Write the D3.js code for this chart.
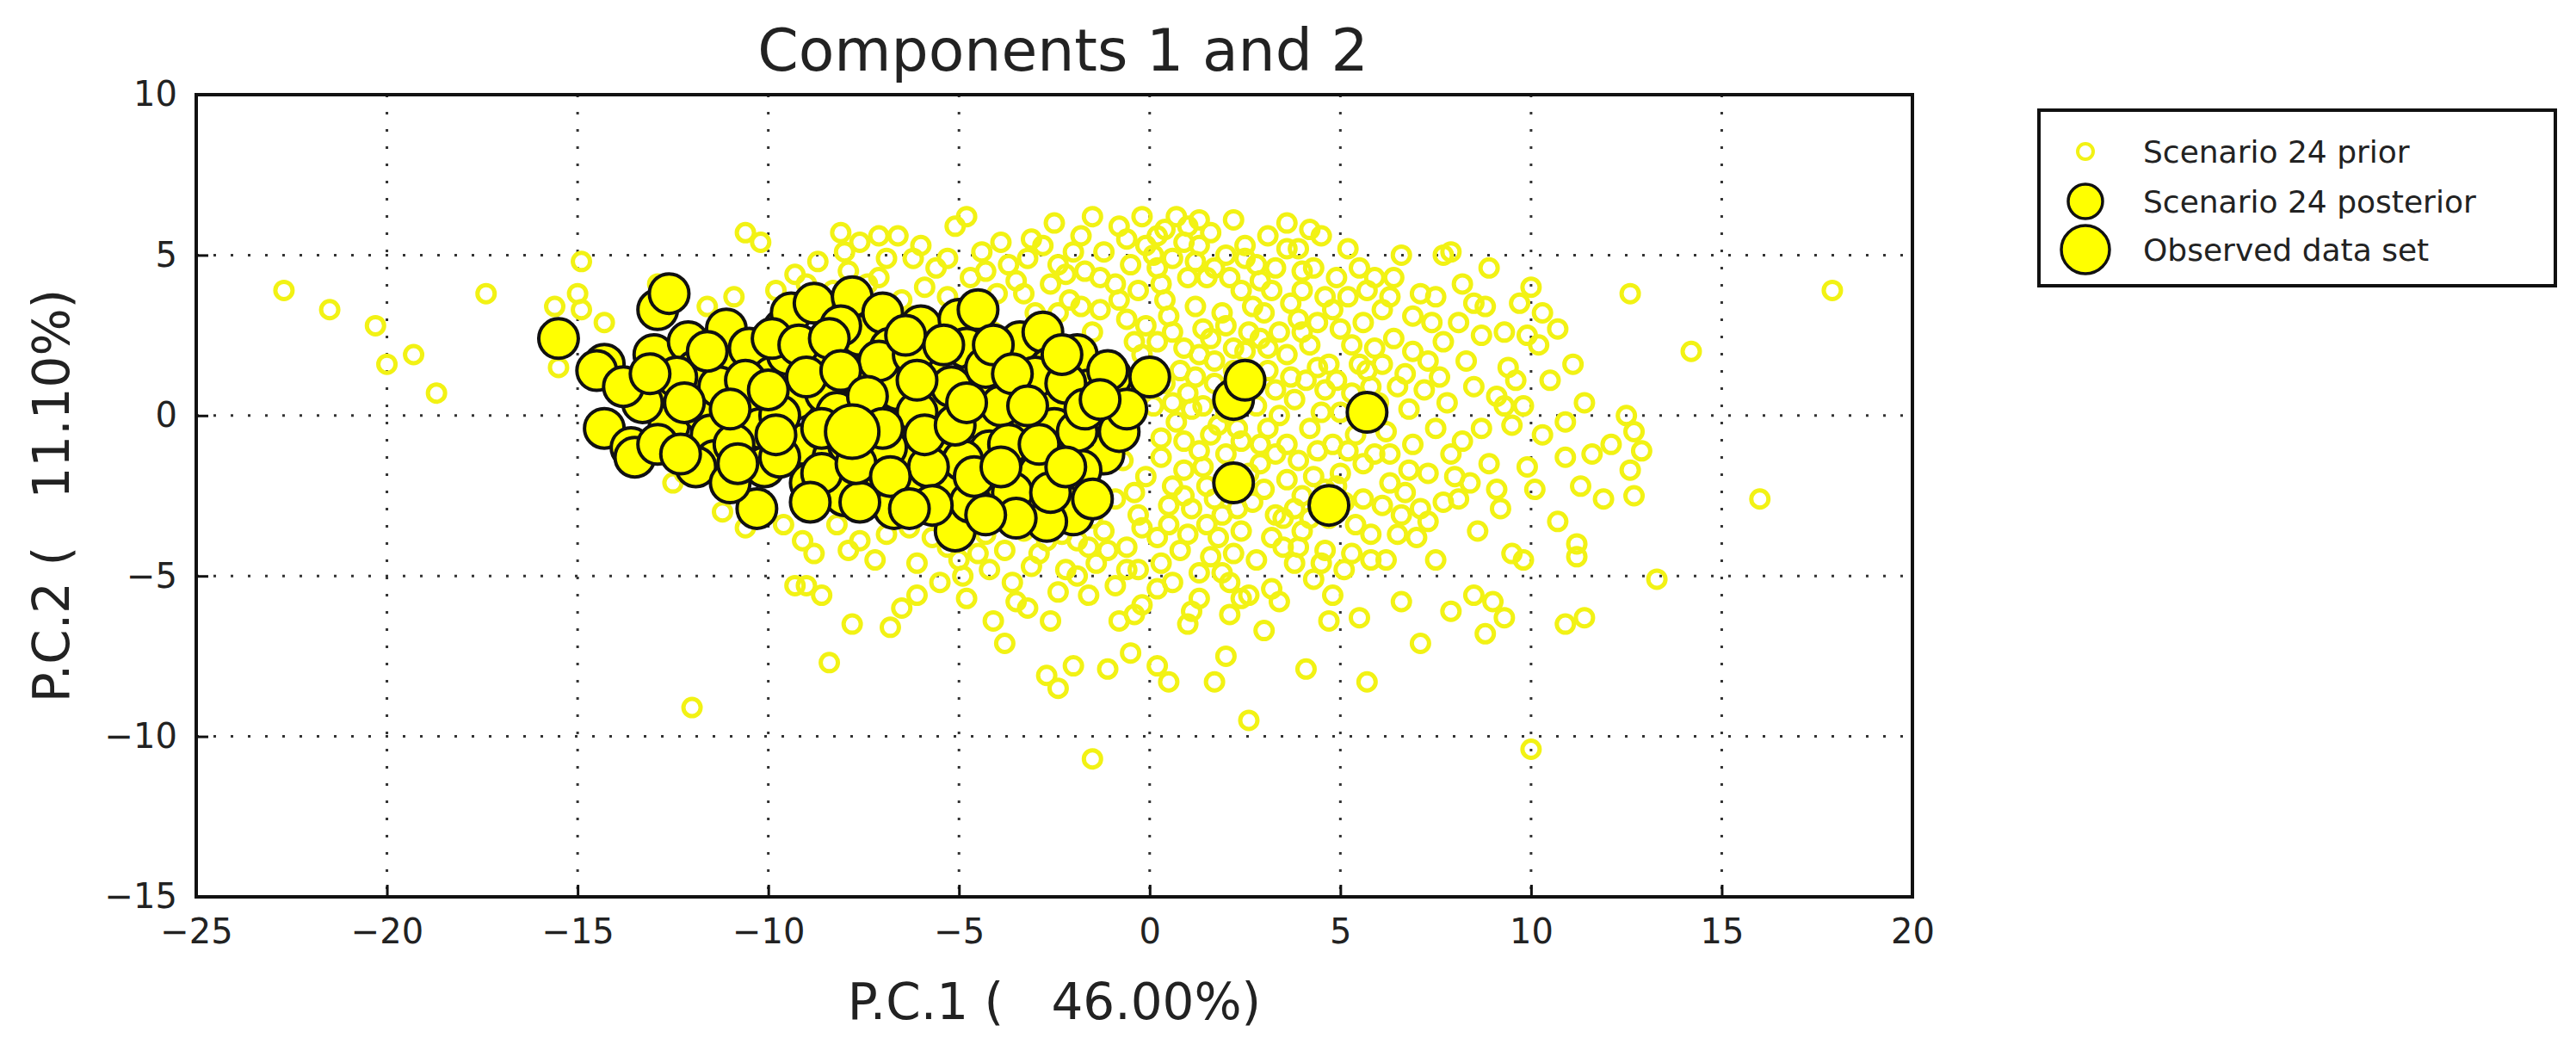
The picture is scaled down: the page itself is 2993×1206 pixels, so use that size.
<!DOCTYPE html>
<html>
<head>
<meta charset="utf-8">
<script src="https://cdn.jsdelivr.net/npm/d3@7"></script>
<style>
  body { margin: 0; background: #fff; }
  text { font-family: "DejaVu Sans", sans-serif; fill: #222; }
</style>
</head>
<body>
<svg id="chart" width="2993" height="1206"></svg>
<script>
// tick labels
var xTicks = [-25, -20, -15, -10, -5, 0, 5, 10, 15, 20];
var yTicks = [-15, -10, -5, 0, 5, 10];

// prior simulations (PC1, PC2)
var priorPoints = [
  [-22.7,3.9],[-21.5,3.3],[-20.3,2.8],[-20,1.6],[-19.3,1.9],[-18.7,0.7],[-17.4,3.8],[-14.9,4.8],[-15,3.8],
  [-15.6,3.4],[-15.5,1.5],[-14.3,2.9],[-14.9,3.3],[-12,-9.1],[-13.5,-1.5],[-11.2,-3],[-10.5,-2.6],[-9.3,-5.3],
  [-9,-5.3],[-8.4,-7.7],[-8.6,-5.6],[-7.9,-4.2],[-7.8,-6.5],[-7.2,-4.5],[-6.8,-6.6],[-6.5,-6],[-6.6,-3],
  [-5.7,-3.8],[-4.9,-5],[-4.8,-5.7],[-3.8,-7.1],[-3.2,-6],[-2.7,-8.1],[-2.4,-8.5],[-2,-7.8],[-1.9,-5],
  [-1.5,-10.7],[-1.1,-7.9],[-0.8,-6.4],[-0.5,-7.4],[-0.3,-4.8],[0.2,-7.8],[0.5,-8.3],[1,-6.5],[1.7,-8.3],
  [2,-7.5],[2.6,-9.5],[2.1,-6.2],[3.2,-5.4],[3.4,-5.8],[4.1,-7.9],[4.7,-6.4],[4.8,-5.6],[5.5,-6.3],[5.7,-8.3],
  [5.8,-4.5],[6.2,-4.5],[7.1,-7.1],[7.5,-4.5],[8.5,-5.6],[8.8,-6.8],[9,-5.8],[9.3,-6.3],[9.5,-4.3],[9.8,-4.5],
  [10,-10.4],[10.9,-6.5],[11.4,-6.3],[11.2,-4],[11.2,-4.4],[10.7,-3.3],[12.7,-2.5],[12.6,-1.7],[12.7,-0.5],
  [13.3,-5.1],[12.9,-1.1],[12.5,0],[16,-2.6],[14.2,2],[12.6,3.8],[17.9,3.9],[10,4],[9.7,3.5],[8.8,3.4],
  [7.7,5],[6.6,5],[7.9,5.1],[8.2,4.1],[5.5,4.6],[4.5,5.6],[4.2,5.8],[3.6,6],[2.2,6.1],[1.3,6.1],[0.7,6.2],
  [-0.2,6.2],[-0.8,5.9],[-1.5,6.2],[-2.5,6],[-3.1,5.5],[-4.8,6.2],[-5.1,5.9],[-6.6,5.6],[-7.1,5.6],[-7.6,5.4],
  [-8.1,5.7],[-10.6,5.7],[-10.2,5.4],[-12.9,4.1],[-9.3,4.4],[-8.7,4.8],[-6.2,4.9],[-5.6,4.6],[-4.4,5.1],
  [-3.7,4.7],[-2.8,5.3],[-2.2,4.4],[-1.8,5.6],[-1.2,5.1],[-0.6,5.5],[0.2,5.6],[0.9,5.4],[1.6,5.7],[2.5,5.3],
  [3.1,5.6],[3.9,5.2],[-9.6,-3.4],[-8.8,-4.3],[-7.6,-3.9],[-6.1,-4.6],[-5.3,-4.1],[-4.2,-4.8],[-3.6,-5.2],
  [-2.9,-4.3],[-2.4,-5.5],[-1.4,-4.6],[-0.9,-5.3],[-0.2,-5.9],[0.6,-5.2],[1.3,-5.7],[1.9,-4.9],[2.6,-5.6],
  [3,-6.7],[3.8,-4.6],[4.3,-5.1],[5.1,-4.8],[6.6,-5.8],[7.9,-6.1],[8.1,-2.6],[8.6,-3.6],[9.2,-2.9],[9.9,-1.6],
  [10.3,-0.6],[10.5,1.1],[10.9,-1.3],[11.3,-2.2],[11.6,-1.2],[11.9,-2.6],[11.4,0.4],[10.2,2.2],[10.7,2.7],
  [9.4,1.5],[9.1,0.6],[8.7,2.5],[8.3,1.7],[7.8,0.4],[7.4,2.9],[7.1,3.8],[6.7,1.3],[6.4,2.4],[6.1,3.3],
  [5.9,-1.2],[6.3,-2.1],[6.9,-0.9],[7.3,-1.8],[7.7,-2.7],[8.2,-0.8],[8.9,-1.5],[9.5,-0.3],[10.1,-2.3],
  [6.6,-3.1],[7,-3.8],[5.4,-3.4],[4.9,-2.2],[5.2,-1.1],[5.5,1.6],[5,2.7],[4.6,3.7],[4.3,4.6],[3.9,3],
  [3.6,1.9],[3.3,0.8],[3.1,-0.4],[2.9,-1.5],[2.7,-2.7],[2.4,-3.6],[1.9,-3.1],[1.5,-2.2],[1.3,-1.1],[1.1,0.2],
  [0.8,1.4],[0.6,2.6],[0.4,3.6],[0.2,4.6],[1.5,4.3],[1.9,3.2],[2.2,2.1],[2.5,0.9],[1.8,-0.3],[0.9,-1.7],
  [0.5,-2.8],[0.2,-3.8],[-0.3,-3.1],[-0.1,-1.9],[0.3,-0.7],[-0.4,0.6],[-0.2,1.9],[-0.6,3],[-0.9,4.1],
  [-1.3,3.3],[-1.7,4.5],[-2.1,3.6],[-2.6,4.1],[-3,3.2],[-3.5,4.2],[-4,3.8],[-4.7,4.3],[-5.3,3.7],[-5.9,4],
  [-6.5,3.6],[-7.1,4.3],[-7.9,4.5],[-8.3,3.9],[-9.8,3.9],[-10.9,3.7],[-11.6,3.4],[4.1,1.1],[4.5,0.1],
  [4.8,-0.9],[4.3,-1.9],[3.8,-2.9],[3.5,-4.1],[4,-3.6],[4.6,-4.2],[5.6,-2.6],[6,0.4],[6.8,0.2],[7.6,1.2],
  [8.5,0.9],[9.8,0.3],[8,-1.9],[3.2,3.9],[2.8,4.7],[2,5],[1.2,4.8],[0.1,5],[-0.5,4.7],[3.5,-3.2],[2.2,-4.3],
  [1.6,-4.4],[1,-3.7],[0.3,-4.6],[-0.6,-4.1],[-1.2,-3.6],[-1.6,-4.1],[-2.3,-3.7],[-3.3,-3.6],[-4.3,-3.7],
  [-5,-4.5],[-6.9,-3.7],[-8.2,-3.4],[-9.1,-3.9],[-10.6,-3.5],[-12.2,-1.8],[-13.1,-1.2],[-12.5,-2.1],
  [5.2,5.2],[4.9,4.3],[5.7,3.9],[6.4,4.3],[8.9,4.6],[9.3,2.6],[10.3,3.2],[10.9,-0.2],[12.1,-0.9],[11.1,1.6],
  [1.4,2.7],[2.9,2.4],[3.6,-0.9],[2.1,-1.9],[1.2,1.2],[0.6,0.4],[-0.7,-1.4],[-0.9,-2.6],[3.9,-1.4],[4.2,2.2],
  [5.3,0.7],[6.2,-0.5],[7.2,0.8],[2.7,3.4],[1.7,1.7],[2.4,-0.8],[3.1,1.4],[4.7,1.6],[5.9,2.1],[6.8,-1.7],
  // dense core
  [0.1,0.3],[0.4,1],[0.7,-0.2],[1,0.7],[1.4,0.3],[1.7,1],[2,0.1],[2.3,-0.4],[2.8,0.3],[3.4,0],[3.8,0.5],
  [4.2,-0.4],[4.6,0.8],[5,0.1],[5.4,-0.6],[5.8,0.9],[0.2,2.3],[0.5,3.1],[0.9,2.1],[1.2,3.4],[1.6,2.4],
  [2,2.8],[2.4,3.9],[2.6,2.6],[3,3.2],[3.4,2.6],[3.7,3.5],[4,3.9],[4.4,2.9],[4.8,3.3],[5.2,3.7],[5.6,2.9],
  [0.3,4.1],[0.6,4.9],[1,4.3],[1.3,5.3],[1.7,4.6],[2.1,4.3],[2.5,4.9],[2.9,4.2],[3.3,4.6],[3.6,5.2],[4,4.5],
  [-0.1,5.3],[0.4,5.8],[1,5.9],[-0.3,3.9],[-0.1,2.8],[-0.4,2.3],[0.1,1.5],[0.3,-1.3],[0.6,-2.2],[1.1,-2.9],
  [1.4,-1.6],[1.7,-2.6],[2,-1.2],[2.3,-2.9],[2.6,-1.8],[3,-2.3],[3.3,-1.2],[3.6,-2],[4,-2.5],[4.4,-1.1],
  [4.7,-3.2],[5,-1.8],[0.5,-3.4],[0.8,-4.2],[1.3,-4.9],[1.8,-3.8],[2.1,-5.2],[2.8,-4.5],[3.2,-3.8],[3.9,-4.1],
  [4.2,-3.2],[-0.4,-2.4],[-0.2,-3.5],[-0.6,-4.8],[-1.1,-4.2],[-1.5,-3.2],[-1.9,-3.9],[-2.2,-4.8],[-2.7,-3.9],
  [-3.1,-4.7],[-3.8,-4.2],[-4.5,-4.3],[-5.5,-3.3],[-6.3,-3.5],[5.3,2.2],[5.7,1.4],[6.1,1.6],[6.5,0.9],
  [6.9,2],[7.3,1.7],[7.7,2.3],[8.1,2.9],[8.5,3.5],[6.3,-1.2],[6.7,-2.4],[7.1,-2.9],[7.5,-0.4],[7.9,-1.2],
  [8.4,-2.1],[8.7,-0.4],[9.1,-2.3],[9.3,0.3],[9.6,1.1],[9.9,2.5],[6.9,3.1],[7.5,3.7],[5.9,4.3],[6.3,3.7],
  [-1.3,4.3],[-2,5.1],[-2.4,4.7],[-3.2,4.9],[-3.9,5.4],[-4.3,4.5],[-5.3,4.9],[-6,5.3],[-6.9,4.9],[-7.4,4.1],
  [-8,5.1],[-9,4.1],[-0.8,3.6],[-1.5,2.6],[-1.8,3.4],[-2.4,3.2],[-3.3,3.8],[-4.1,2.6],[-5.4,2.9],[-6.3,3.1],
  [1.6,-0.6],[2.9,-0.9],[4.4,1.5],[3.7,1.2],[2.2,1.4],[0.9,-0.8],[1.3,1.9],[2.5,2],[3.1,2.1],[4,2.6],[4.9,1.1],
  [5.6,-1.5],[5.1,-2.7],[4.6,-2.3],[3.3,-3.1],[1.5,-3.4],[0.9,-2.5],[5.8,-3.7],[6.1,-2.8],[6.5,-3.7],[7.3,-3.3],
  [5.3,-4.3],[4.5,-4.6],[2.4,-5.7],[1.1,-6.1],[0.2,-5.4],[-0.4,-6.2],[-1.6,-5.6],[-2.6,-6.4],[-3.5,-5.8],
  [-4.1,-6.4],[-5.5,-5.2],[-6.1,-5.6]
];

// posterior simulations
var posteriorPoints = [
  [-15.5,2.4],[-14.3,1.6],[-14.5,1.4],[-14.3,-0.4],[-13.6,-1],[-13.5,-1.3],[-12.9,3.3],[-12.6,3.8],[-13,1.9],
  [-12.8,0.7],[-12.6,-0.3],[-12.1,2.3],[-11.9,1.4],[-11.7,0.1],[-11.5,-0.6],[-11.4,-1.4],[-11.1,2.7],
  [-10.8,1.6],[-10.5,2.1],[-10.4,0.4],[-10.2,-0.4],[-10.1,-1.6],[-10.3,-2.9],[-9.9,1.2],[-9.6,2.7],[-9.4,3.2],
  [-9.3,0.5],[-9.1,-0.9],[-8.9,-2.1],[-8.8,3.5],[-8.7,1.9],[-8.5,0.7],[-8.3,-1.3],[-8,-2.5],[-7.8,3.7],
  [-7.6,2.5],[-7.5,1.2],[-7.3,0],[-7.2,-1.8],[-7,3.2],[-6.8,2.1],[-6.6,0.8],[-6.5,-0.4],[-6.3,-1.3],
  [-6.2,-2.4],[-6,2.8],[-5.8,1.5],[-5.6,0.3],[-5.5,-0.8],[-5.3,-2],[-5.1,-3.6],[-5,3],[-4.8,2.1],[-4.6,1],
  [-4.4,-0.1],[-4.2,-1.1],[-4,-2.3],[-4.5,3.3],[-3.8,1.8],[-3.5,0.8],[-3.3,-0.4],[-3.2,-1.5],[-3.1,-2.9],
  [-3.4,2.3],[-2.8,2.6],[-2.6,1.5],[-2.4,0.3],[-2.2,-0.9],[-2.1,-2.3],[-2,-3.1],[-1.9,1.9],[-1.6,0.8],
  [-1.4,-0.2],[-1.2,-1.2],[-1,1.2],[-0.8,-0.5],[0,1.2],[-0.6,0.2],[-1.1,1.4],[-13.3,0.4],[-12.4,1.2],
  [-11.3,0.9],[-10.9,-0.9],[-9.7,-1.3],[-9.5,1.9],[-8.1,2.8],[-8.2,0.1],[-7.9,-0.9],[-6.9,-1],[-6.1,0.1],
  [-5.2,0.9],[-4.9,-1.4],[-3.9,0.3],[-3.7,-0.9],[-2.9,-1.8],[-2.5,-0.4],[-1.8,-1.7],[-1.5,-2.6],[-9.9,2.4],
  [-11.9,-1.6],[-12.9,-0.9],[-10.6,1.1],[-7.1,1.7],[-6.2,1.9],[-4.3,1.5],[-3,1.2],[-2.2,1],[-5.8,-1.6],
  [-6.7,-2.9],[-7.6,-2.7],[-4.7,-2.7],[-3.6,-2.4],[-2.7,-3.3],[-8.6,-0.4],[-9.7,0],[-11,-2.1],
  [-13.8,0.9],[-13.1,1.3],[-12.2,0.4],[-12.3,-1.2],[-11.6,2],[-11,0.2],[-10.8,-1.5],[-10,0.8],[-9.8,-0.6],
  [-9.2,2.2],[-9,1.2],[-8.6,-1.8],[-8.4,2.4],[-8.1,1.4],[-7.7,-1.5],[-7.4,0.6],[-7,-0.4],[-6.8,-1.9],
  [-6.4,2.5],[-6.1,1.1],[-5.9,-0.6],[-5.7,-2.8],[-5.4,2.2],[-5.1,-0.3],[-4.8,0.4],[-4.6,-1.9],[-4.1,2.2],
  [-3.9,-1.6],[-3.6,1.3],[-3.2,0.3],[-2.9,-0.9],[-2.6,-2.4],[-2.3,1.9],[-1.9,-0.5],[-1.7,0.2],[-1.3,0.5],
  [-2.2,-1.6],[-3.5,-3.2],[-4.3,-3.1],[-6.3,-2.9],[-8.9,-2.7],[2.2,0.5],
  [2.5,1.1],[5.7,0.1],[2.2,-2.1],[4.7,-2.8]
];

// observed data set
var observedPoint = [-7.8, -0.5];

var svg = d3.select('#chart');
var margin = {left: 228, right: 2222, top: 110, bottom: 1042};

var x = d3.scaleLinear().domain([-25, 20]).range([margin.left, margin.right]);
var y = d3.scaleLinear().domain([-15, 10]).range([margin.bottom, margin.top]);

// grid
var grid = svg.append('g');
grid.selectAll('line.gx').data(xTicks.slice(1, -1)).enter().append('line')
  .attr('x1', function(d){ return x(d); }).attr('x2', function(d){ return x(d); })
  .attr('y1', margin.top).attr('y2', margin.bottom)
  .attr('stroke', '#333').attr('stroke-width', 3).attr('stroke-dasharray', '3,17');
grid.selectAll('line.gy').data(yTicks.slice(1, -1)).enter().append('line')
  .attr('y1', function(d){ return y(d); }).attr('y2', function(d){ return y(d); })
  .attr('x1', margin.left).attr('x2', margin.right)
  .attr('stroke', '#333').attr('stroke-width', 3).attr('stroke-dasharray', '3,17');

// points
svg.append('g').selectAll('circle').data(priorPoints).enter().append('circle')
  .attr('cx', function(d){ return x(d[0]); })
  .attr('cy', function(d){ return y(d[1]); })
  .attr('r', 10)
  .attr('fill', 'none')
  .attr('stroke', '#f2f214')
  .attr('stroke-width', 5);

svg.append('g').selectAll('circle').data(posteriorPoints).enter().append('circle')
  .attr('cx', function(d){ return x(d[0]); })
  .attr('cy', function(d){ return y(d[1]); })
  .attr('r', 23)
  .attr('fill', '#ffff00')
  .attr('stroke', '#111')
  .attr('stroke-width', 4);

svg.append('circle')
  .attr('cx', x(observedPoint[0])).attr('cy', y(observedPoint[1]))
  .attr('r', 31).attr('fill', '#ffff00').attr('stroke', '#111').attr('stroke-width', 4);

// frame
svg.append('rect')
  .attr('x', margin.left).attr('y', margin.top)
  .attr('width', margin.right - margin.left).attr('height', margin.bottom - margin.top)
  .attr('fill', 'none').attr('stroke', '#111').attr('stroke-width', 4);

// axes (ticks inside)
var xAxis = svg.append('g').attr('transform', 'translate(0,' + margin.bottom + ')')
  .call(d3.axisBottom(x).tickValues(xTicks).tickSize(-14).tickPadding(26).tickFormat(d3.format('d')));
var yAxis = svg.append('g').attr('transform', 'translate(' + margin.left + ',0)')
  .call(d3.axisLeft(y).tickValues(yTicks).tickSize(-14).tickPadding(22).tickFormat(d3.format('d')));
[xAxis, yAxis].forEach(function(a){
  a.select('.domain').remove();
  a.selectAll('line').attr('stroke', '#111').attr('stroke-width', 3);
  a.selectAll('text').attr('font-size', 40).style('fill', '#222');
});
xAxis.selectAll('text').text(function(d){ return d < 0 ? '\u2212' + Math.abs(d) : d; });
yAxis.selectAll('text').text(function(d){ return d < 0 ? '\u2212' + Math.abs(d) : d; });

// titles
svg.append('text').attr('x', 1235).attr('y', 82).attr('text-anchor', 'middle')
  .attr('font-size', 68).text('Components 1 and 2');
svg.append('text').attr('x', 1225).attr('y', 1184).attr('text-anchor', 'middle')
  .attr('font-size', 58).attr('xml:space', 'preserve').text('P.C.1 (   46.00%)');
svg.append('text').attr('transform', 'translate(80,576) rotate(-90)').attr('text-anchor', 'middle')
  .attr('font-size', 58).attr('xml:space', 'preserve').text('P.C.2 (   11.10%)');

// legend
var legend = svg.append('g');
legend.append('rect').attr('x', 2369).attr('y', 128).attr('width', 600).attr('height', 204)
  .attr('fill', '#fff').attr('stroke', '#111').attr('stroke-width', 4);
var legendItems = ['Scenario 24 prior', 'Scenario 24 posterior', 'Observed data set'];
var legendY = [176, 234, 290];
legend.append('circle').attr('cx', 2423).attr('cy', legendY[0]).attr('r', 9)
  .attr('fill', 'none').attr('stroke', '#f2f214').attr('stroke-width', 4);
legend.append('circle').attr('cx', 2423).attr('cy', legendY[1]).attr('r', 20)
  .attr('fill', '#ffff00').attr('stroke', '#111').attr('stroke-width', 3.5);
legend.append('circle').attr('cx', 2423).attr('cy', legendY[2]).attr('r', 28)
  .attr('fill', '#ffff00').attr('stroke', '#111').attr('stroke-width', 3.5);
legend.selectAll('text').data(legendItems).enter().append('text')
  .attr('x', 2490).attr('y', function(d, i){ return legendY[i] + 13; })
  .attr('font-size', 36).text(function(d){ return d; });
</script>
</body>
</html>
